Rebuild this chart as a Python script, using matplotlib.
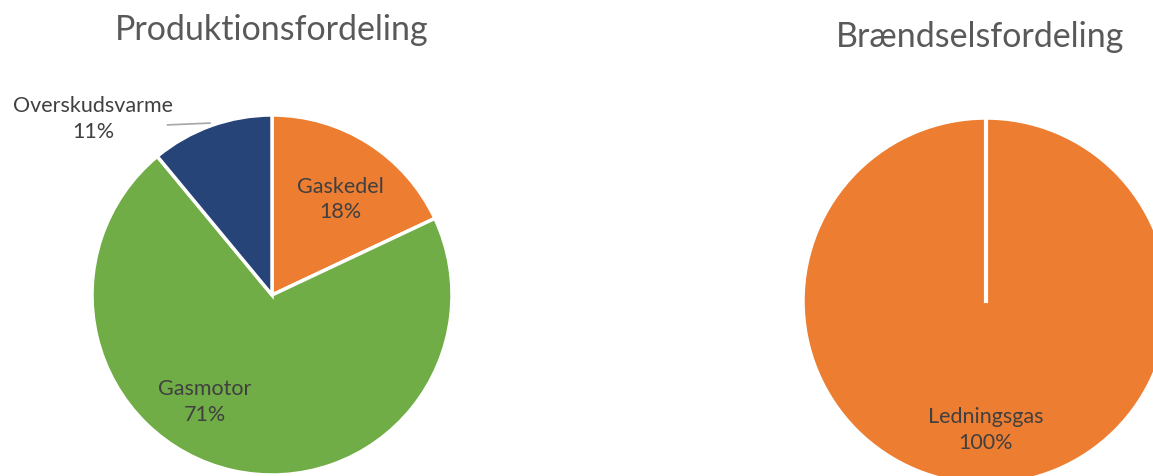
import numpy as np
import matplotlib.pyplot as plt

plt.rcParams['font.family'] = ['Lato', 'DejaVu Sans']

# data
prod_labels = ['Gaskedel', 'Gasmotor', 'Overskudsvarme']
prod_values = [18, 71, 11]
prod_colors = ['#ED7D31', '#70AD47', '#264478']

fuel_labels = ['Ledningsgas']
fuel_values = [100]
fuel_colors = ['#ED7D31']

W, H = 1153, 476
fig = plt.figure(figsize=(W / 100, H / 100), dpi=100)


def pie_axes(cx, cy, r):
    # cx, cy in pixels from top-left, r pixel radius
    return fig.add_axes([(cx - r) / W, (H - cy - r) / H, 2 * r / W, 2 * r / H])


txt = '#404040'
lab_fs = 15.5

# left pie
ax1 = pie_axes(272, 295, 180)
ax1.pie(prod_values, colors=prod_colors, startangle=90, counterclock=False,
        wedgeprops=dict(edgecolor='white', linewidth=2.5), radius=1)
ax1.set_xlim(-1, 1)
ax1.set_ylim(-1, 1)
ax1.axis('off')

ax1.text(0.378, 0.53, f'{prod_labels[0]}\n{prod_values[0]}%', ha='center', va='center',
         fontsize=lab_fs, color=txt, linespacing=1.35)
ax1.text(-0.372, -0.594, f'{prod_labels[1]}\n{prod_values[1]}%', ha='center', va='center',
         fontsize=lab_fs, color=txt, linespacing=1.35)
ax1.text(-0.994, 0.978, f'{prod_labels[2]}\n{prod_values[2]}%', ha='center', va='center',
         fontsize=lab_fs, color=txt, linespacing=1.35, clip_on=False)
ax1.plot([-0.58, -0.345], [0.945, 0.955], color='#a6a6a6', lw=1.2, clip_on=False)
fig.text(272 / W, 1 - 30 / H, 'Produktionsfordeling', ha='center', va='center',
         fontsize=24.5, color='#595959')

# right pie
ax2 = pie_axes(986, 301, 183)
ax2.pie(fuel_values, colors=fuel_colors, startangle=90, counterclock=False,
        wedgeprops=dict(edgecolor='white', linewidth=2.5), radius=1)
ax2.set_xlim(-1, 1)
ax2.set_ylim(-1, 1)
ax2.axis('off')
ax2.plot([0, 0], [0, 1], color='white', lw=3)
ax2.text(0.0, -0.705, f'{fuel_labels[0]}\n{fuel_values[0]}%', ha='center', va='center',
         fontsize=lab_fs, color=txt, linespacing=1.35)
fig.text(980 / W, 1 - 37 / H, 'Brændselsfordeling', ha='center', va='center',
         fontsize=24.5, color='#595959')

fig.savefig('out.png', dpi=100)
